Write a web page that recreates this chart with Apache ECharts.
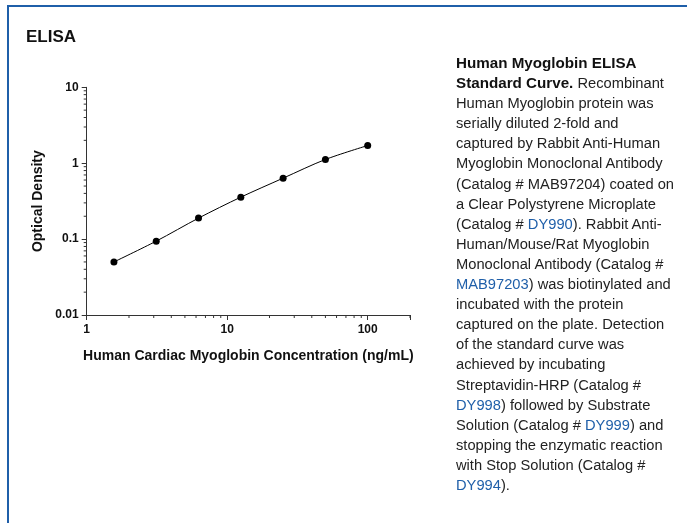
<!DOCTYPE html>
<html><head><meta charset="utf-8">
<script src="https://cdn.jsdelivr.net/npm/echarts@6/dist/echarts.min.js"></script>
<style>
html,body{margin:0;padding:0;background:#fff;width:687px;height:523px;overflow:hidden;font-family:"Liberation Sans",Arial,sans-serif;}
#frame{position:absolute;left:7px;top:5px;width:800px;height:700px;border:2px solid #1f5fa9;box-sizing:border-box;}
#title{position:absolute;left:26px;top:27px;font-weight:bold;font-size:17px;color:#111;}
#chart{position:absolute;left:0;top:0;width:687px;height:523px;}
#desc{position:absolute;left:456px;top:53px;font-size:14.7px;line-height:20.1px;color:#222;white-space:nowrap;}
#desc b{color:#111;font-size:15.2px;}
#desc .l{color:#1f5fa9;}
</style></head>
<body>
<div id="frame"></div>
<div id="chart"></div>
<div id="title">ELISA</div>
<div id="desc"><b>Human Myoglobin ELISA<br>Standard Curve.</b> Recombinant<br>Human Myoglobin protein was<br>serially diluted 2-fold and<br>captured by Rabbit Anti-Human<br>Myoglobin Monoclonal Antibody<br>(Catalog # MAB97204) coated on<br>a Clear Polystyrene Microplate<br>(Catalog # <span class="l">DY990</span>). Rabbit Anti-<br>Human/Mouse/Rat Myoglobin<br>Monoclonal Antibody (Catalog #<br><span class="l">MAB97203</span>) was biotinylated and<br>incubated with the protein<br>captured on the plate. Detection<br>of the standard curve was<br>achieved by incubating<br>Streptavidin-HRP (Catalog #<br><span class="l">DY998</span>) followed by Substrate<br>Solution (Catalog # <span class="l">DY999</span>) and<br>stopping the enzymatic reaction<br>with Stop Solution (Catalog #<br><span class="l">DY994</span>).</div>
<script>
var concentrations = [1.5625, 3.125, 6.25, 12.5, 25, 50, 100];
var opticalDensity = [0.050, 0.094, 0.189, 0.357, 0.635, 1.12, 1.71];
var xMinorTicks = [2,3,4,5,6,7,8,9,20,30,40,50,60,70,80,90,200];
var yMinorTicks = [0.02,0.03,0.04,0.05,0.06,0.07,0.08,0.09,0.2,0.3,0.4,0.5,0.6,0.7,0.8,0.9,2,3,4,5,6,7,8,9];

var chart = echarts.init(document.getElementById('chart'));
var bold12 = {color:'#111', fontWeight:'bold', fontSize:12, fontFamily:'Liberation Sans'};
function tickSeries(vals, isX){
  return {
    type:'custom', silent:true, clip:false, z:1,
    data: vals.map(function(v){return [v];}),
    renderItem:function(params, api){
      var v = api.value(0);
      var p = isX ? api.coord([v, 0.01]) : api.coord([1, v]);
      var shape = isX ? {x1:p[0], y1:p[1], x2:p[0], y2:p[1]+3} : {x1:p[0], y1:p[1], x2:p[0]-3, y2:p[1]};
      return {type:'line', shape:shape, style:{stroke:'#333', lineWidth:1}};
    }
  };
}
chart.setOption({
  animation:false,
  grid:{left:86.7, right:277, top:87.3, bottom:208},
  xAxis:{type:'log', logBase:10, min:1, max:200,
    name:'Human Cardiac Myoglobin Concentration (ng/mL)', nameLocation:'middle', nameGap:34,
    nameTextStyle:{color:'#111', fontWeight:'bold', fontSize:14, fontFamily:'Liberation Sans'},
    axisLine:{lineStyle:{color:'#333', width:1}},
    axisTick:{show:true, length:5, lineStyle:{color:'#333'}},
    axisLabel:Object.assign({margin:9, formatter:function(v){return (v===200)?'':String(v);}}, bold12),
    splitLine:{show:false}},
  yAxis:{type:'log', logBase:10, min:0.01, max:10,
    name:'Optical Density', nameLocation:'middle', nameGap:42,
    nameTextStyle:{color:'#111', fontWeight:'bold', fontSize:14, fontFamily:'Liberation Sans'},
    axisLine:{show:true, lineStyle:{color:'#333', width:1}},
    axisTick:{show:true, length:5, lineStyle:{color:'#333'}},
    axisLabel:Object.assign({margin:8, formatter:function(v){return String(v);}}, bold12),
    splitLine:{show:false}},
  series:[
    {type:'line', data:concentrations.map(function(c,i){return [c, opticalDensity[i]];}),
     smooth:0.3, symbol:'circle', symbolSize:7, itemStyle:{color:'#000'}, lineStyle:{color:'#000', width:1}, z:3},
    tickSeries(xMinorTicks, true),
    tickSeries(yMinorTicks, false)
  ]
});
</script>
</body></html>
